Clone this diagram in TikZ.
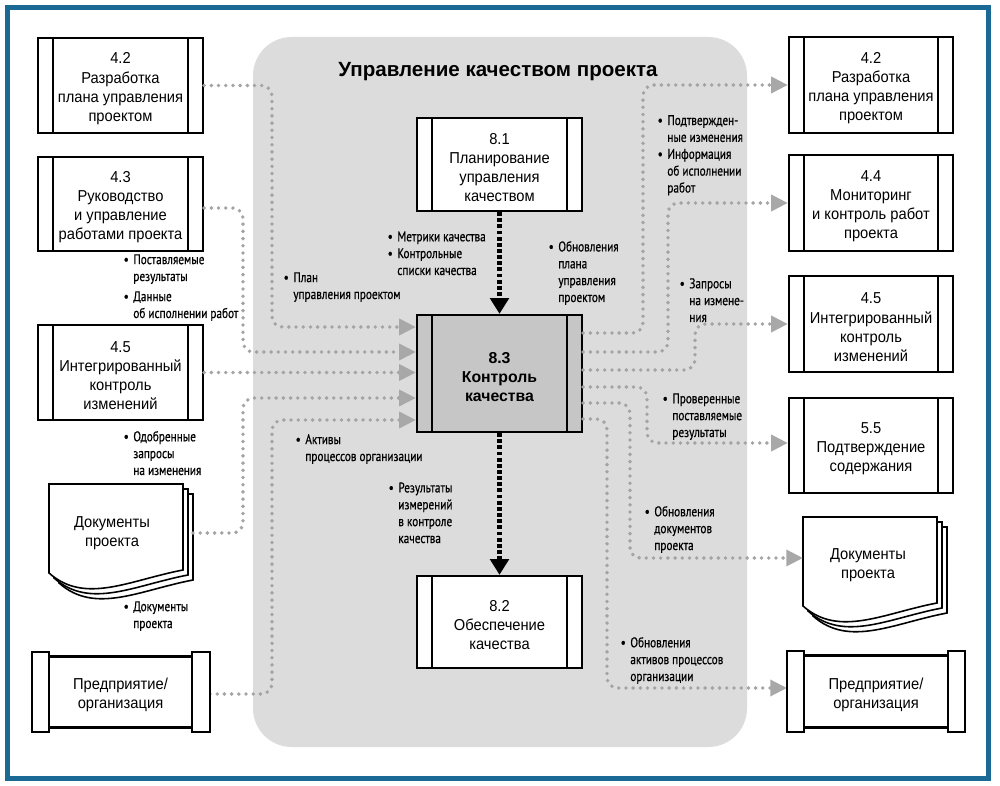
\documentclass[tikz,border=0pt]{standalone}
\usepackage{fontspec}
\setmainfont{Liberation Sans}
\newfontfamily\boxfont[FakeStretch=0.93]{Liberation Sans}
\newfontfamily\lblfont[FakeStretch=0.8,FakeBold=0.6]{PT Sans}
\usetikzlibrary{arrows.meta}
\definecolor{frameblue}{HTML}{1B6A96}
\definecolor{panelgray}{HTML}{DCDCDC}
\definecolor{darkfill}{HTML}{C6C6C6}
\definecolor{dotgray}{HTML}{A4A4A4}
\definecolor{headgray}{HTML}{A8A8A8}
\newcommand\mybul{\llap{\textbullet\hspace{2.6pt}}}
\newcommand\tp{\rule{0pt}{10pt}}
\begin{document}
\begin{tikzpicture}[x=0.02cm,y=-0.02cm,
  proc/.style={draw, line width=1.3pt, fill=white, minimum width=3.3cm, align=center,
    font=\boxfont\fontsize{9}{10.9}\selectfont, inner sep=0pt,
    path picture={\draw[line width=1.3pt]
      ([xshift=0.3cm]path picture bounding box.north west) -- ([xshift=0.3cm]path picture bounding box.south west)
      ([xshift=-0.3cm]path picture bounding box.north east) -- ([xshift=-0.3cm]path picture bounding box.south east);}},
  entbox/.style={draw, line width=1.3pt, fill=white, align=center, inner sep=0pt,
    font=\boxfont\fontsize{9}{10.9}\selectfont},
  bar/.style={draw, line width=1.3pt, fill=white},
  doctext/.style={align=center, inner sep=0pt, font=\boxfont\fontsize{9}{10.9}\selectfont},
  docline/.style={draw=black, line width=0.9pt, fill=white},
  lbl/.style={align=left, anchor=base west, inner sep=0pt, font=\lblfont\fontsize{8}{9.6}\selectfont},
  gin/.style={draw=dotgray, line width=2.2pt, dash pattern=on 0pt off 4.1pt, line cap=round,
    rounded corners=6pt, -{Triangle[length=9.5pt,width=9pt,color=headgray]}},
  bdot/.style={draw=black, line width=2.6pt, dash pattern=on 2.2pt off 1.3pt, line cap=butt,
    -{Triangle[length=9pt,width=10.5pt,color=black]}},
  docpage/.pic={\draw[docline] (0,0) -- (134,0) -- (134,86) .. controls (81,96) and (36,121) .. (0,89) -- cycle;}
]
\useasboundingbox (0,0) rectangle (1000,786);
\fill[white] (0,0) rectangle (1000,786);
\draw[frameblue, line width=2.8pt] (7.5,7.5) rectangle (988.5,778.5);
\fill[panelgray, rounded corners=22pt] (253,37) rectangle (747,747);
\node[font=\bfseries\fontsize{11.7}{13}\selectfont, inner sep=0pt] (title) at (498,72) {Управление качеством проекта};

% left process boxes
\node[proc, minimum height=1.9cm] (l42) at (120.5,85.5) {\tp 4.2\\Разработка\\плана управления\\проектом};
\node[proc, minimum height=1.88cm] (l43) at (120.5,204) {\tp 4.3\\Руководство\\и управление\\работами проекта};
\node[proc, minimum height=1.9cm] (l45) at (120.5,372.5) {\tp 4.5\\Интегрированный\\контроль\\изменений};

% centre boxes
\node[proc, minimum height=1.86cm] (p81) at (499.5,164.5) {\tp 8.1\\Планирование\\управления\\качеством};
\node[proc, minimum height=2.34cm, fill=darkfill, font=\bfseries\fontsize{9}{10.9}\selectfont] (p83) at (499.5,373.5) {\tp 8.3\\Контроль\\качества};
\node[proc, minimum height=1.84cm] (p82) at (499.5,622) {\tp 8.2\\Обеспечение\\качества};

% right process boxes
\node[proc, minimum width=3.28cm, minimum height=1.92cm] (r42) at (871,85) {\tp 4.2\\Разработка\\плана управления\\проектом};
\node[proc, minimum width=3.28cm, minimum height=1.92cm] (r44) at (871,203) {\tp 4.4\\Мониторинг\\и контроль работ\\проекта};
\node[proc, minimum width=3.28cm, minimum height=1.92cm] (r45) at (871,324) {\tp 4.5\\Интегрированный\\контроль\\изменений};
\node[proc, minimum width=3.28cm, minimum height=1.9cm] (r55) at (871,445.5) {\tp 5.5\\Подтверждение\\содержания};

% documents
\pic at (59,494) {docpage};
\pic at (54,489) {docpage};
\pic at (49,484) {docpage};
\node[doctext] (ldoc) at (112,533) {Документы\\проекта};
\coordinate (ldocout) at (193,533);
\pic at (813,527) {docpage};
\pic at (808,522) {docpage};
\pic at (803,517) {docpage};
\node[doctext] (rdoc) at (868,565) {Документы\\проекта};
\coordinate (rdocin) at (803,558);

% enterprise
\node[entbox, minimum width=2.86cm, minimum height=1.42cm] (lent) at (120.5,692) {\tp Предприятие/\\организация};
\node[entbox, minimum width=2.88cm, minimum height=1.44cm] (rent) at (876,691.5) {\tp Предприятие/\\организация};
\coordinate (lentout) at (210,694);
\coordinate (rentin) at (787,688);

% inputs
\draw[gin] (l42.east) -- (272,85.5) -- (272,327) -- (p83.west |- 0,327);
\draw[gin] (l43.east |- 0,208) -- (243,208) -- (243,352) -- (p83.west |- 0,352);
\draw[gin] (l45.east) -- (l45.east -| p83.west);
\draw[gin] (ldocout) -- (243,533) -- (243,398) -- (p83.west |- 0,398);
\draw[gin] (lentout) -- (272,694) -- (272,420) -- (p83.west |- 0,420);

% outputs
\draw[gin] (p83.east |- 0,333) -- (643,333) -- (643,85) -- (r42.west);
\draw[gin] (p83.east |- 0,352) -- (668,352) -- (668,203) -- (r44.west);
\draw[gin] (p83.east |- 0,370) -- (695,370) -- (695,324) -- (r45.west);
\draw[gin] (p83.east |- 0,387) -- (647,387) -- (647,443) -- (r55.west |- 0,443);
\draw[gin] (p83.east |- 0,403) -- (630,403) -- (630,558) -- (rdocin);
\draw[gin] (p83.east |- 0,419) -- (607,419) -- (607,688) -- (rentin);

% centre flow
\draw[bdot] (p81.south) -- (p83.north);
\draw[bdot] (p83.south) -- (p82.north);

% enterprise bars
\draw[bar] (32,652) rectangle (49,732);
\draw[bar] (192,652) rectangle (210,732);
\draw[bar] (787,651) rectangle (804,732);
\draw[bar] (948,651) rectangle (965,732);

% labels (anchor = baseline of the last line)
\node[lbl] (t1) at (133,281) {\mybul Поставляемые\\результаты};
\node[lbl] (t2) at (133,318) {\mybul Данные\\об исполнении работ};
\node[lbl] (t3) at (293,299) {\mybul План\\управления проектом};
\node[lbl] (t4) at (133,475) {\mybul Одобренные\\запросы\\на изменения};
\node[lbl] (t5) at (133,628) {\mybul Документы\\проекта};
\node[lbl] (t6) at (305,461) {\mybul Активы\\процессов организации};
\node[lbl] (t7) at (397,275) {\mybul Метрики качества\\\mybul Контрольные\\списки качества};
\node[lbl] (t8) at (558,302) {\mybul Обновления\\плана\\управления\\проектом};
\node[lbl] (t9) at (398,543) {\mybul Результаты\\измерений\\в контроле\\качества};
\node[lbl] (u1) at (667,192.5) {\mybul Подтвержден-\\ные изменения\\\mybul Информация\\об исполнении\\работ};
\node[lbl] (u2) at (689,322) {\mybul Запросы\\на измене-\\ния};
\node[lbl] (u3) at (672,437) {\mybul Проверенные\\поставляемые\\результаты};
\node[lbl] (u4) at (654,550) {\mybul Обновления\\документов\\проекта};
\node[lbl] (u5) at (630,681) {\mybul Обновления\\активов процессов\\организации};
\end{tikzpicture}
\end{document}
